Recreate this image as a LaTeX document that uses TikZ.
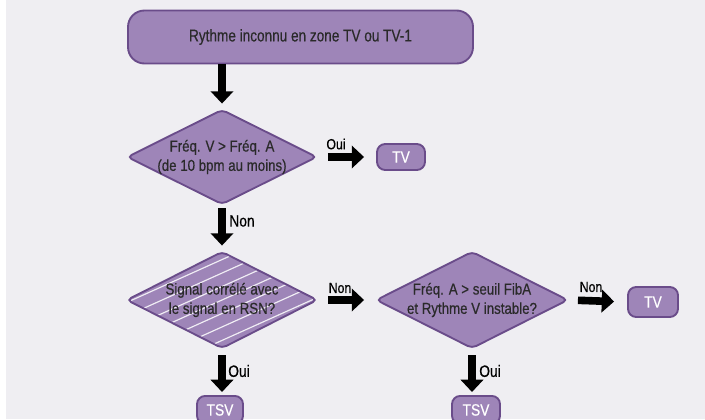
\documentclass[tikz,border=0pt]{standalone}
\usepackage{fontspec}
\setmainfont[FakeStretch=0.8, FakeBold=0.4]{Liberation Sans}
\newfontfamily\dfont[FakeStretch=0.84, FakeBold=0.5]{Liberation Sans}
\usetikzlibrary{shapes.geometric,arrows.meta,calc}
\definecolor{bg}{HTML}{EFEEF2}
\definecolor{pfill}{HTML}{9E85B8}
\definecolor{pdraw}{HTML}{6A4C8A}
\definecolor{txt}{HTML}{2A2A2A}
\tikzset{
  box/.style={draw=pdraw, fill=pfill, line width=1.6pt, rounded corners=7pt, inner sep=0pt},
  dia/.style={diamond, draw=pdraw, fill=pfill, line width=1.6pt, rounded corners=4pt, inner sep=0pt},
  dtext/.style={align=center, text=txt, font=\dfont\fontsize{13.5}{16.5}\selectfont},
  btext/.style={text=white, font=\dfont\fontsize{14}{16}\selectfont},
  lab/.style={text=black, font=\dfont\fontsize{12.5}{14}\selectfont, inner sep=0pt},
  labd/.style={text=black, font=\dfont\fontsize{14}{16}\selectfont, inner sep=0pt},
  bigarrow/.style={line width=6.5pt, -{Triangle[width=19pt,length=10.5pt]}},
}
\begin{document}
\begin{tikzpicture}[x=0.03cm,y=-0.03cm]
\fill[bg] (0,0) rectangle (705,419);
\fill[white] (0,0) rectangle (6,419);
\useasboundingbox (0,0) rectangle (705,419);
\clip (0,0) rectangle (705,419);

% top box
\node[box, rounded corners=14pt, minimum width=345*0.03cm, minimum height=53*0.03cm,
      text=txt, font=\fontsize{14.5}{16}\selectfont] (top) at (300.5,37) {Rythme inconnu en zone TV ou TV-1};

% diamonds
\node[dia, minimum width=190*0.03cm, minimum height=95*0.03cm] (d1) at (222,157) {};
\node[dtext] (d1t) at (d1) {Fréq. V > Fréq. A\\(de 10 bpm au moins)};

\node[dia, minimum width=191*0.03cm, minimum height=97*0.03cm,
  path picture={
    \foreach \k in {-9,...,9}
      \draw[white!85!pfill, line width=1pt] ([yshift=\k*11.5pt]path picture bounding box.center) ++(-200pt,-90pt) -- ++(400pt,180pt);
  }] (d2) at (222,300) {};
\node[dtext] (d2t) at (d2) {Signal corrélé avec\\le signal en RSN?};

\node[dia, minimum width=192*0.03cm, minimum height=97*0.03cm] (d3) at (472,300) {};
\node[dtext] (d3t) at (d3) {Fréq. A > seuil FibA\\et Rythme V instable?};

% result boxes
\node[box, minimum width=48*0.03cm, minimum height=26*0.03cm, btext] (tv1) at (401,157) {TV};
\node[box, minimum width=50*0.03cm, minimum height=30*0.03cm, btext] (tv2) at (653,302) {TV};
\node[box, minimum width=46*0.03cm, minimum height=28*0.03cm, btext, anchor=north] (tsv1) at (220,395) {TSV};
\node[box, minimum width=48*0.03cm, minimum height=28*0.03cm, btext, anchor=north] (tsv2) at (476,395) {TSV};

% arrows
\draw[bigarrow, shorten >=5*0.03cm] (d1.north |- top.south) -- (d1.north);
\draw[bigarrow, shorten <=10*0.03cm, shorten >=12*0.03cm] (d1.east) -- (tv1.west);
\draw[bigarrow, shorten <=3*0.03cm, shorten >=5*0.03cm] (d1.south) -- (d2.north);
\draw[bigarrow, shorten <=10*0.03cm, shorten >=11*0.03cm] (d2.east) -- (d3.west);
\draw[bigarrow, shorten <=9*0.03cm, shorten >=13*0.03cm] (d3.east) -- (tv2.west);
\draw[bigarrow, shorten <=6*0.03cm, shorten >=3*0.03cm] (d2.south) -- (d2.south |- tsv1.north);
\draw[bigarrow, shorten <=6*0.03cm, shorten >=3*0.03cm] (d3.south) -- (d3.south |- tsv2.north);

% labels
\node[lab] (l1) at (336,144) {Oui};
\node[labd] (l2) at (242,221) {Non};
\node[lab] (l3) at (340,288) {Non};
\node[lab] (l4) at (591,287) {Non};
\node[labd] (l5) at (239,371) {Oui};
\node[labd] (l6) at (490,371) {Oui};
\end{tikzpicture}
\end{document}
